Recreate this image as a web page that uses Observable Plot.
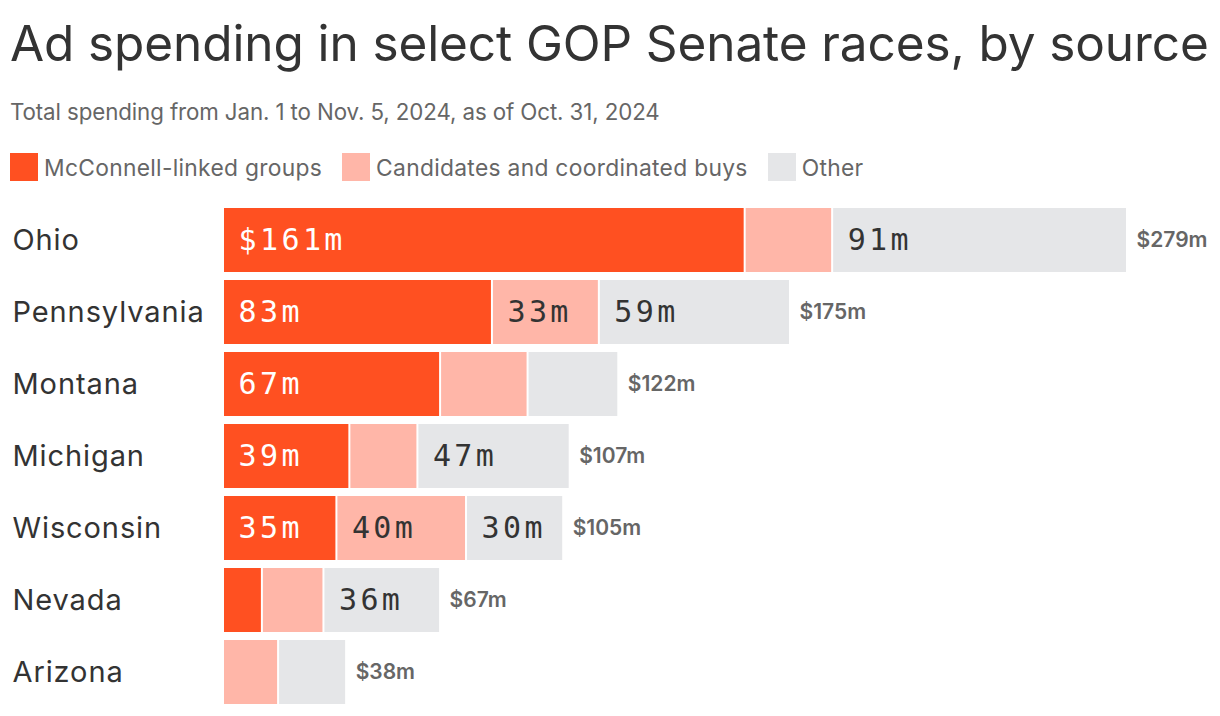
<!DOCTYPE html>
<html>
<head>
<meta charset="utf-8">
<script src="https://cdn.jsdelivr.net/npm/d3@7"></script>
<script src="https://cdn.jsdelivr.net/npm/@observablehq/plot@0.6"></script>
<style>
  html, body { margin: 0; padding: 0; background: #fff; }
  body { width: 1220px; height: 716px; position: relative; overflow: hidden; font-family: Inter, "Noto Sans", sans-serif; }
  #title { position: absolute; left: 10px; top: 13px; font-size: 49.5px; line-height: 60px; color: #333; font-weight: 400; letter-spacing: -0.1px; white-space: nowrap; }
  #subtitle { position: absolute; left: 10px; top: 98px; font-size: 22.3px; line-height: 28px; color: #666; letter-spacing: -0.1px; white-space: nowrap; }
  #legend { position: absolute; left: 10px; top: 153px; display: flex; align-items: center; font-size: 22.8px; color: #666; white-space: nowrap; letter-spacing: 0.3px; }
  .item { display: flex; align-items: center; margin-right: 20px; }
  .sw { width: 28px; height: 28px; margin-right: 6px; }
  #chart { position: absolute; left: 0; top: 190px; }
  #chart g[font-family="DejaVu Sans Mono"] { letter-spacing: 3.4px; }
  #chart g.states { letter-spacing: 0.9px; }
</style>
</head>
<body>
<div id="title">Ad spending in select GOP Senate races, by source</div>
<div id="subtitle">Total spending from Jan. 1 to Nov. 5, 2024, as of Oct. 31, 2024</div>
<div id="legend"></div>
<div id="chart"></div>
<script>
const states = ["Ohio", "Pennsylvania", "Montana", "Michigan", "Wisconsin", "Nevada", "Arizona"];
const mcconnell = [161, 83, 67, 39, 35, 12, 0];
const candidates = [27, 33, 27, 21, 40, 19, 17];
const other = [91, 59, 28, 47, 30, 36, 21];
const totals = [279, 175, 122, 107, 105, 67, 38];
const sources = ["McConnell-linked groups", "Candidates and coordinated buys", "Other"];
const colors = ["#FF5021", "#FFB6A8", "#E5E6E8"];
const textColors = ["#ffffff", "#333333", "#333333"];

const series = [mcconnell, candidates, other];
const rows = [];
states.forEach((s, i) => {
  series.forEach((arr, j) => {
    rows.push({state: s, source: sources[j], value: arr[i], si: i, sj: j});
  });
});
rows.forEach(r => {
  r.start = series.slice(0, r.sj).reduce((a, arr) => a + arr[r.si], 0);
});
const labeled = rows.filter(r => r.value >= 30);
const fmtLabel = r => (r.si === 0 && r.sj === 0 ? "$" : "") + r.value + "m";
const totalRows = states.map((s, i) => ({state: s, total: totals[i]}));

const leg = document.getElementById("legend");
sources.forEach((s, j) => {
  const it = document.createElement("div");
  it.className = "item";
  it.innerHTML = `<div class="sw" style="background:${colors[j]}"></div><span>${s}</span>`;
  leg.appendChild(it);
});

const plot = Plot.plot({
  width: 1220,
  height: 526,
  marginLeft: 223,
  marginRight: 93,
  marginTop: 10,
  marginBottom: 4,
  x: {domain: [0, d3.max(totals)], axis: null},
  y: {domain: states, axis: null, padding: 0.111},
  color: {domain: sources, range: colors},
  marks: [
    Plot.barX(rows, Plot.stackX({x: "value", y: "state", fill: "source", order: sources, insetLeft: 1, insetRight: 1})),
    Plot.text(labeled, {
      x: "start", y: "state", text: fmtLabel, textAnchor: "start", dx: 15,
      fill: r => textColors[r.sj],
      fontFamily: "DejaVu Sans Mono", fontSize: 30
    }),
    Plot.text(totalRows, {
      x: "total", y: "state", text: d => "$" + d.total + "m", textAnchor: "start", dx: 9,
      fill: "#666", fontSize: 21, fontWeight: 600, fontFamily: "Inter"
    }),
    Plot.text(states, {
      y: d => d, text: d => d, frameAnchor: "left", textAnchor: "start", dx: -211,
      fill: "#333", fontSize: 29, fontFamily: "Inter", fontWeight: 400
    })
  ]
});
d3.select(plot).selectAll("g[font-weight='400']").classed("states", true);
document.getElementById("chart").appendChild(plot);
</script>
</body>
</html>
